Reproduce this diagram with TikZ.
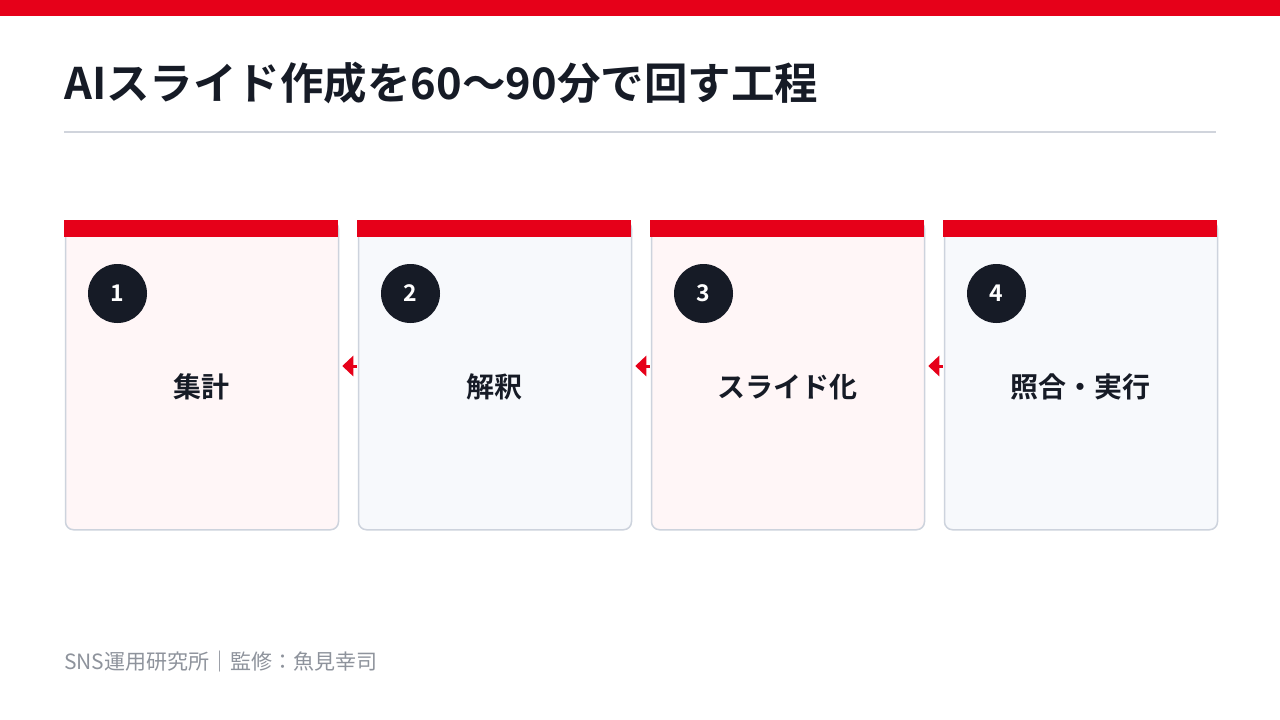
\documentclass[tikz,border=0pt]{standalone}
\usepackage{fontspec}
\setmainfont{Noto Sans CJK JP}[BoldFont={Noto Sans CJK JP Bold}]
\usetikzlibrary{arrows.meta}
\definecolor{brandred}{HTML}{E60019}
\definecolor{inkdark}{HTML}{161B26}
\definecolor{rulegray}{HTML}{D0D4DC}
\definecolor{cardpink}{HTML}{FFF6F7}
\definecolor{cardblue}{HTML}{F7F9FC}
\definecolor{cardborder}{HTML}{CDD3DD}
\definecolor{footgray}{HTML}{8E939C}
\tikzset{
  card/.style={draw=cardborder, line width=1.5pt, rounded corners=8pt, minimum width=273pt, minimum height=309pt, inner sep=0pt, anchor=north west},
  numdot/.style={circle, fill=inkdark, minimum size=59pt, inner sep=0pt, text=white, font=\bfseries\fontsize{23}{23}\selectfont},
  cardlabel/.style={text=inkdark, font=\bfseries\fontsize{28}{28}\selectfont},
  flowarrow/.style={brandred, line width=3pt, -{Triangle[length=11pt,width=20pt]}}
}
\begin{document}
\begin{tikzpicture}[x=1pt,y=-1pt]
\useasboundingbox (0,0) rectangle (1280,720);
\fill[white] (0,0) rectangle (1280,720);
\fill[brandred] (0,0) rectangle (1280,16);
\node[anchor=west, text=inkdark, font=\bfseries\fontsize{43.5}{43.5}\selectfont, inner sep=0pt] (title) at (64,83) {AIスライド作成を60〜90分で回す工程};
\draw[rulegray, line width=2pt] (64,132) coordinate (r1) -- (1216,132) coordinate (r2);
\foreach \i/\x/\f/\t in {1/64/cardpink/集計, 2/357/cardblue/解釈, 3/650/cardpink/スライド化, 4/943/cardblue/照合・実行}{
  \node[card, fill=\f] (c\i) at (\x+0.75,220) {};
  \fill[brandred] (\x,220) rectangle (\x+274,237);
  \node[numdot] (n\i) at (\x+53.5,293.5) {\i};
  \node[cardlabel] (l\i) at (\x+137,387) {\t};
}
\foreach \a/\b in {2/1,3/2,4/3}{
  \coordinate (s\a) at ([xshift=-1pt]c\a.west |- 0,366);
  \coordinate (e\b) at ([xshift=3pt]c\b.east |- 0,366);
  \draw[flowarrow] (s\a) -- (e\b);
}
\node[anchor=west, text=footgray, font=\fontsize{21}{21}\selectfont, inner sep=0pt] (foot) at (64,662) {SNS運用研究所｜監修：魚見幸司};
\end{tikzpicture}
\end{document}
